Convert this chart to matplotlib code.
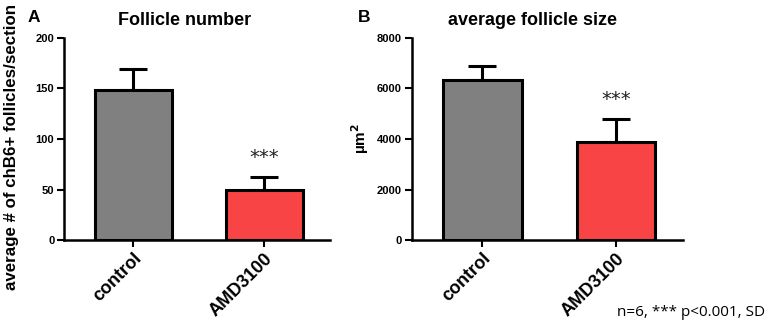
import matplotlib.pyplot as plt

plt.rcParams['font.family'] = ['Liberation Sans', 'DejaVu Sans']

groups = ["control", "AMD3100"]
count_mean = [148, 50]
count_sd = [21, 12]
size_mean = [6350, 3900]
size_sd = [550, 900]
bar_colors = ["#808080", "#F84444"]

fig = plt.figure(figsize=(7.68, 3.24), dpi=100)
ax_a = fig.add_axes([0.0833, 0.259, 0.346, 0.624])
ax_b = fig.add_axes([0.536, 0.259, 0.353, 0.624])


def draw_panel(ax, means, sds, ymax, ystep, title, title_x):
    x = range(len(means))
    ax.bar(x, means, width=0.59, color=bar_colors, edgecolor="black", linewidth=2.2, zorder=2)
    ax.errorbar(x, means, yerr=[[0] * len(sds), sds], fmt="none", ecolor="black",
                elinewidth=2.2, capsize=10, capthick=2.2, zorder=1)
    ax.set_xlim(-0.53, 1.5)
    ax.set_ylim(0, ymax)
    ax.set_yticks(range(0, ymax + 1, ystep))
    ax.set_xticks(list(x))
    ax.set_xticklabels(groups, rotation=45, ha="right", rotation_mode="anchor",
                       fontsize=13, fontweight="bold")
    for lbl in ax.get_yticklabels():
        lbl.set_fontweight("bold")
        lbl.set_fontsize(8)
    ax.spines["top"].set_visible(False)
    ax.spines["right"].set_visible(False)
    ax.spines["left"].set_linewidth(1.8)
    ax.spines["bottom"].set_linewidth(1.8)
    ax.tick_params(axis="both", width=1.5, length=5, pad=2)
    ax.set_title(title, fontsize=13, fontweight="bold", pad=9, x=title_x)
    # significance marker above the treated bar
    ax.text(1, means[1] + sds[1] + ymax * 0.05, "***", ha="center", va="bottom",
            fontsize=14, family="DejaVu Sans", color="#222222")


draw_panel(ax_a, count_mean, count_sd, 200, 50, "Follicle number", 0.455)
draw_panel(ax_b, size_mean, size_sd, 8000, 2000, "average follicle size", 0.445)

ax_a.set_ylabel("average # of chB6+ follicles/section", fontsize=12.2, fontweight="bold")
ax_a.yaxis.set_label_coords(-0.17, 0.46)
ax_b.set_ylabel("µm$^\\mathbf{2}$", fontsize=11, fontweight="bold", labelpad=4)

fig.text(0.044, 0.945, "A", fontsize=12.5, fontweight="bold", ha="center", va="center")
fig.text(0.474, 0.945, "B", fontsize=12.5, fontweight="bold", ha="center", va="center")
fig.text(0.996, 0.035, "n=6, *** p<0.001, SD", fontsize=11, ha="right", va="center",
         family=["Open Sans", "DejaVu Sans"])

fig.savefig("out.png", dpi=100)
